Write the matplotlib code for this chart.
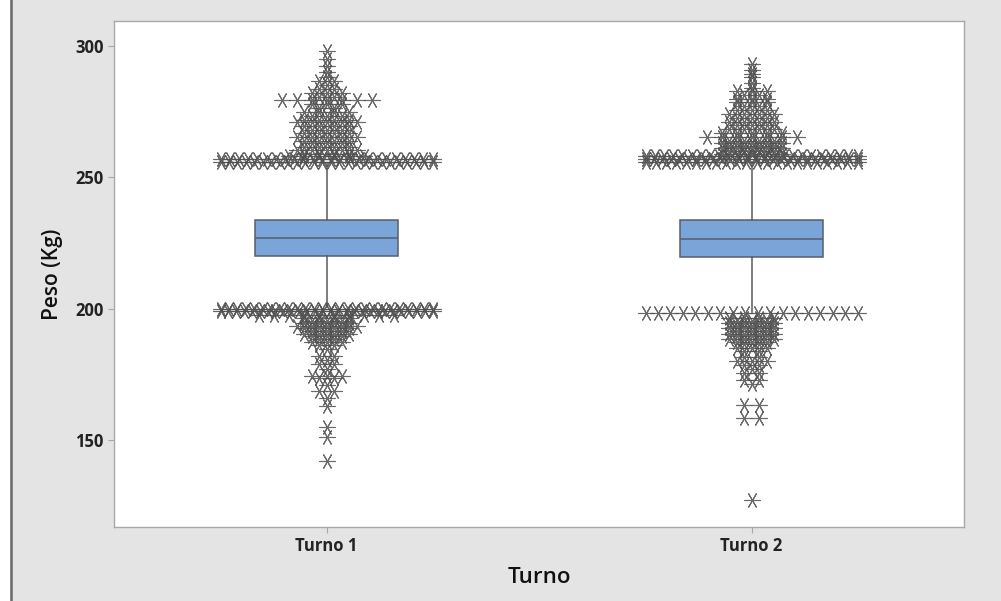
import numpy as np
import matplotlib
matplotlib.use("Agg")
import matplotlib.pyplot as plt
from matplotlib.lines import Line2D
from matplotlib.patches import Rectangle

categories = ["Turno 1", "Turno 2"]

# box statistics
q1 = [220.0, 219.8]
median = [226.8, 226.4]
q3 = [233.8, 233.8]
whisker_low = [200.6, 198.8]
whisker_high = [255.5, 256.0]

# outliers: value and how many identical points
t1_out_vals = [298, 295, 292.5, 290, 288, 286.5, 285, 283.5, 282, 280.5, 279.5,
               278, 276.5, 275, 273.5, 272, 271, 269.5, 268, 267, 265.5, 264,
               263, 261.5, 260.5, 259, 258, 257, 255.8,
               200, 199, 197.5, 196.5, 195.5, 194.5, 193.5, 192.5, 191.5, 190.5,
               189.5, 188.5, 187.5, 186, 184.5, 182, 180.5, 179, 177, 174.5,
               173.5, 171, 168.5, 166, 163, 155, 151, 142]
t1_out_counts = [1, 1, 1, 1, 1, 2, 1, 2, 3, 2, 7,
                 3, 2, 4, 3, 4, 5, 4, 3, 4, 5, 4,
                 3, 4, 5, 4, 6, 24, 26,
                 26, 28, 10, 4, 3, 4, 5, 4, 3, 4,
                 3, 2, 3, 2, 1, 2, 1, 2, 1, 3,
                 2, 1, 2, 1, 1, 1, 1, 1]

t2_out_vals = [293, 291, 289.5, 288, 286, 284, 283, 281.5, 280, 278.5, 277,
               275.5, 274, 272.5, 271, 270, 268.5, 267, 265.3, 264, 263, 262,
               261, 260, 259, 258.3, 257, 255.8,
               198.5, 196.5, 195.5, 194.5, 193.5, 192.5, 191.5, 190.5, 189.5,
               188.5, 187.5, 186.5, 185, 184, 181.5, 180, 178.5, 177, 175.5,
               173, 171.5, 163.3, 158.5, 127]
t2_out_counts = [1, 1, 1, 1, 1, 1, 3, 2, 3, 3, 2,
                 3, 4, 3, 4, 3, 4, 5, 7, 4, 5, 4,
                 5, 4, 5, 24, 26, 22,
                 18, 4, 3, 4, 3, 4, 3, 4, 3,
                 4, 3, 2, 3, 2, 2, 3, 2, 1, 2,
                 2, 1, 2, 2, 1]

BOX_FILL = "#7ba4d9"
BOX_EDGE = "#55606e"
MARK = "#505050"

fig = plt.figure(figsize=(10.01, 6.01), dpi=100)
fig.patch.set_facecolor("#e4e4e4")
fig.patches.append(Rectangle((0, 0), 9.5 / 1001, 1, transform=fig.transFigure,
                             facecolor="white", edgecolor="none", zorder=0))
fig.add_artist(Line2D([10.5 / 1001, 10.5 / 1001], [0, 1], transform=fig.transFigure,
                      color="#6a6a6a", lw=1.8))

ax_l, ax_r, ax_t, ax_b = 114, 964, 21, 527
ax = fig.add_axes([ax_l / 1001, 1 - ax_b / 601, (ax_r - ax_l) / 1001, (ax_b - ax_t) / 601])
ax.set_facecolor("white")

xlim = (0.5, 2.5)
ax.set_xlim(*xlim)
ax.set_ylim(116.9, 309.5)

stats = []
for i in range(2):
    stats.append(dict(med=median[i], q1=q1[i], q3=q3[i], whislo=whisker_low[i],
                      whishi=whisker_high[i], fliers=[]))
ax.bxp(stats, positions=[1, 2], widths=0.336, patch_artist=True, showcaps=False,
       showfliers=False,
       boxprops=dict(facecolor=BOX_FILL, edgecolor=BOX_EDGE, linewidth=1.1),
       medianprops=dict(color=BOX_EDGE, linewidth=1.1),
       whiskerprops=dict(color="#5a5a5a", linewidth=1.1))

units_per_px = (xlim[1] - xlim[0]) / (ax_r - ax_l)
marker = (6, 2, 30)
for pos, vals, cnts in [(1, t1_out_vals, t1_out_counts), (2, t2_out_vals, t2_out_counts)]:
    xs, ys = [], []
    for v, n in zip(vals, cnts):
        sp = 15 if n < 2 else min(15, 212 / (n - 1))
        offs = (np.arange(n) - (n - 1) / 2) * sp * units_per_px
        xs.extend(pos + offs)
        ys.extend([v] * n)
    ax.plot(xs, ys, linestyle="none", marker=marker, markersize=11.5,
            markeredgewidth=0.8, color=MARK, alpha=0.85, zorder=3)

for s in ax.spines.values():
    s.set_color("#a8a8a8")
    s.set_linewidth(1.0)

ax.set_yticks([150, 200, 250, 300])
ax.set_xticks([1, 2])
ax.set_xticklabels(categories)
ax.tick_params(axis="both", colors="#a8a8a8", length=4, width=0.8, labelcolor="#222222",
               labelsize=12)
for lab in ax.get_xticklabels() + ax.get_yticklabels():
    lab.set_fontweight("bold")
    lab.set_family("Open Sans")

ax.set_ylabel("Peso (Kg)", fontsize=15, fontweight="semibold", family="Open Sans",
              color="#111111", labelpad=9)
ax.set_xlabel("Turno", fontsize=16, fontweight="semibold", family="Open Sans",
              color="#111111", labelpad=8)

fig.savefig("out.png", dpi=100, facecolor=fig.get_facecolor())
